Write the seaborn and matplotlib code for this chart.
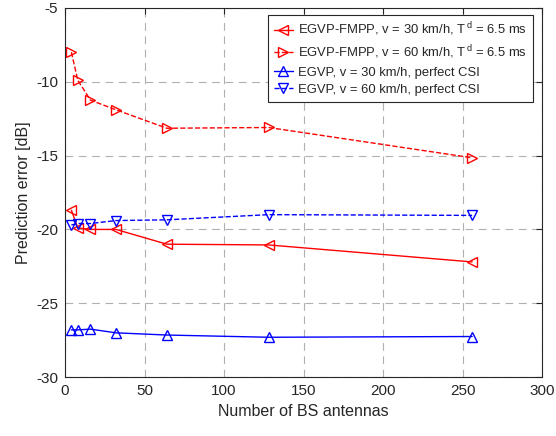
import matplotlib
matplotlib.use('Agg')
import matplotlib.pyplot as plt
import seaborn as sns
import pandas as pd

# data
antennas = [4, 8, 16, 32, 64, 128, 256]
fmpp_30 = [-18.7, -19.9, -20.0, -20.0, -21.0, -21.05, -22.2]
fmpp_60 = [-8.0, -9.9, -11.25, -11.9, -13.15, -13.1, -15.15]
egvp_30 = [-26.8, -26.8, -26.75, -27.0, -27.15, -27.3, -27.25]
egvp_60 = [-19.7, -19.6, -19.6, -19.4, -19.35, -19.0, -19.05]

labels = [r'EGVP-FMPP, v = 30 km/h, T$^{\,\rm d}$ = 6.5 ms',
          r'EGVP-FMPP, v = 60 km/h, T$^{\,\rm d}$ = 6.5 ms',
          'EGVP, v = 30 km/h, perfect CSI',
          'EGVP, v = 60 km/h, perfect CSI']

sns.set_style('white')
plt.rcParams['font.family'] = ['Liberation Sans', 'DejaVu Sans']
plt.rcParams['mathtext.fontset'] = 'custom'
plt.rcParams['mathtext.rm'] = 'Liberation Sans'
plt.rcParams['axes.unicode_minus'] = False

fig = plt.figure(figsize=(5.56, 4.36), dpi=100)
ax = fig.add_axes([0.117, 0.135, 0.858, 0.847])

series = [
    (fmpp_30, 'red', '-', '<'),
    (fmpp_60, 'red', '--', '>'),
    (egvp_30, 'blue', '-', '^'),
    (egvp_60, 'blue', '--', 'v'),
]
for (vals, col, ls, mk), lab in zip(series, labels):
    df = pd.DataFrame({'x': antennas, 'y': vals})
    sns.lineplot(data=df, x='x', y='y', ax=ax, color=col, linestyle=ls,
                 marker=mk, markersize=7, markerfacecolor='none',
                 markeredgecolor=col, markeredgewidth=1, linewidth=1,
                 label=lab)

ax.set_xlim(0, 300)
ax.set_ylim(-30, -5)
ax.set_xticks(range(0, 301, 50))
ax.set_yticks(range(-30, -4, 5))
ax.grid(True, linestyle=(0, (7, 5)), color='#b0b0b0', linewidth=0.8)
ax.tick_params(direction='in', length=4, labelsize=11, top=True, right=True,
               pad=5, color='#262626', labelcolor='#262626')
for s in ax.spines.values():
    s.set_color('#262626')
    s.set_linewidth(0.8)
ax.set_xlabel('Number of BS antennas', fontsize=11.5, color='#262626')
ax.set_ylabel('Prediction error [dB]', fontsize=11.5, color='#262626')

leg = ax.legend(loc='upper right', bbox_to_anchor=(0.981, 0.981),
                borderaxespad=0, fontsize=9.4, frameon=True, fancybox=False,
                edgecolor='#262626', framealpha=1, handlelength=1.5,
                handletextpad=0.4, borderpad=0.45, labelspacing=0.4)
leg.get_frame().set_linewidth(0.8)

fig.savefig('out.png', dpi=100)
